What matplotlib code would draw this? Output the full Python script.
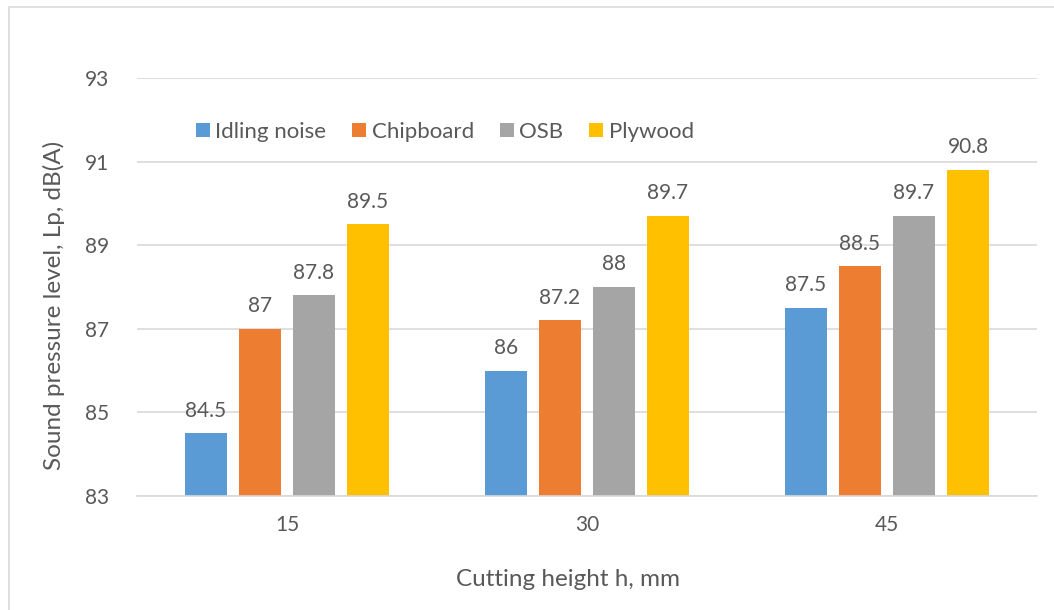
import numpy as np
import matplotlib.pyplot as plt
from matplotlib.patches import Rectangle

plt.rcParams['font.family'] = ['Lato', 'DejaVu Sans']

heights = ["15", "30", "45"]
series = ["Idling noise", "Chipboard", "OSB", "Plywood"]
idling = [84.5, 86, 87.5]
chipboard = [87, 87.2, 88.5]
osb = [87.8, 88, 89.7]
plywood = [89.5, 89.7, 90.8]
colors = ["#5b9bd5", "#ed7d31", "#a5a5a5", "#ffc000"]

TEXT = "#595959"
GRID = "#d9d9d9"

fig = plt.figure(figsize=(10.54, 6.10), dpi=100)
# chart area outline
fig.patches.append(Rectangle((9 / 1054, -0.1), 1.2, 1 - 7 / 610 + 0.1,
                             transform=fig.transFigure, fill=False,
                             edgecolor=GRID, linewidth=1.2))
ax = fig.add_axes([137 / 1054, 1 - 496 / 610, 900 / 1054, 418 / 610])

x = np.arange(len(heights))
width = 0.143
step = 0.18
values = [idling, chipboard, osb, plywood]
for i, (name, vals, col) in enumerate(zip(series, values, colors)):
    pos = x + (i - 1.5) * step
    bars = ax.bar(pos, np.array(vals) - 83, width, bottom=83, color=col, label=name)
    for b, v in zip(bars, vals):
        ax.text(b.get_x() + b.get_width() / 2, v + 0.3, f"{v:g}",
                ha="center", va="bottom", fontsize=15, color=TEXT)

ax.set_xlim(-0.5, 2.5)
ax.set_ylim(83, 93)
ax.set_yticks(range(83, 94, 2))
ax.set_xticks(x)
ax.set_xticklabels(heights)
ax.yaxis.grid(True, color=GRID, linewidth=1.2)
ax.set_axisbelow(True)
for s in ["top", "right", "left"]:
    ax.spines[s].set_visible(False)
ax.spines["bottom"].set_color(GRID)
ax.spines["bottom"].set_linewidth(1.2)
ax.tick_params(length=0, labelsize=15, labelcolor=TEXT)
ax.tick_params(axis="x", pad=14)
ax.tick_params(axis="y", pad=20)

ax.set_xlabel("Cutting height h, mm", fontsize=17.5, color=TEXT)
ax.set_ylabel("Sound pressure level, Lp, dB(A)", fontsize=17.5, color=TEXT)
ax.xaxis.set_label_coords(0.479, -0.175)
ax.yaxis.set_label_coords(-0.08, 0.457)

ax.legend(loc="center", bbox_to_anchor=(0.342, 0.871), ncol=4, frameon=False,
          fontsize=16, labelcolor=TEXT, handlelength=0.64, handleheight=0.64,
          handletextpad=0.25, columnspacing=1.15)

fig.savefig("out.png", dpi=100)
